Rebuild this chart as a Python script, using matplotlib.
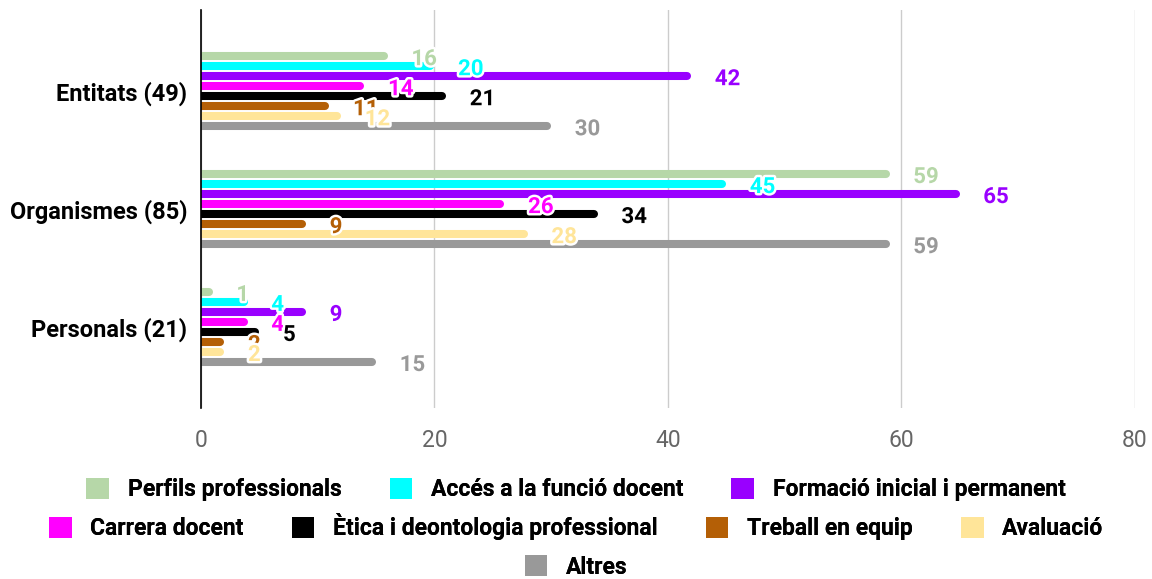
import matplotlib
matplotlib.use('Agg')
import matplotlib.pyplot as plt
import matplotlib.patheffects as pe
from matplotlib.patches import Patch
from matplotlib.transforms import ScaledTranslation

plt.rcParams['font.family'] = ['Roboto', 'DejaVu Sans']

categories = ['Entitats (49)', 'Organismes (85)', 'Personals (21)']
series = ['Perfils professionals', 'Accés a la funció docent', 'Formació inicial i permanent',
          'Carrera docent', 'Ètica i deontologia professional', 'Treball en equip',
          'Avaluació', 'Altres']
colors = ['#b6d7a8', '#00ffff', '#9900ff', '#ff00ff', '#000000', '#b45f06', '#ffe599', '#999999']
values = [
    [16, 59, 1],   # Perfils professionals
    [20, 45, 4],   # Accés a la funció docent
    [42, 65, 9],   # Formació inicial i permanent
    [14, 26, 4],   # Carrera docent
    [21, 34, 5],   # Ètica i deontologia professional
    [11, 9, 2],    # Treball en equip
    [12, 28, 2],   # Avaluació
    [30, 59, 15],  # Altres
]
xticks = [0, 20, 40, 60, 80]

fig = plt.figure(figsize=(11.52, 5.79), dpi=100)
ax = fig.add_axes([0.1745, 0.295, 0.8105, 0.688])

lw = 5.8          # bar thickness in points
step = 0.085      # distance between bars inside a group
n = len(series)
# shift the round caps back so the bar ends at its value
shift = ax.transData + ScaledTranslation(-lw / 2 / 72, 0, fig.dpi_scale_trans)

for i, (name, col) in enumerate(zip(series, colors)):
    for c, v in enumerate(values[i]):
        y = c + (i - (n - 1) / 2) * step
        ax.hlines(y, 0, v, colors=col, linewidth=lw, capstyle='round',
                  transform=shift, zorder=3)

# value labels drawn after all bars so they sit on top
for i, col in enumerate(colors):
    for c, v in enumerate(values[i]):
        y = c + (i - (n - 1) / 2) * step
        ax.annotate(str(v), (v, y), xytext=(17, -2.2), textcoords='offset points',
                    ha='left', va='center', fontsize=16, fontweight='bold', color=col,
                    zorder=5 + i,
                    path_effects=[pe.withStroke(linewidth=3.5, foreground='white')])

ax.set_xlim(0, 80)
ax.set_ylim(2.69, -0.69)
ax.set_xticks(xticks)
ax.set_xticklabels([str(t) for t in xticks], fontsize=16.5, color='#666666')
ax.set_yticks(range(len(categories)))
ax.set_yticklabels(categories, fontsize=17, fontweight='bold')
ax.tick_params(length=0)
ax.tick_params(axis='x', pad=15)
ax.tick_params(axis='y', pad=10)
ax.grid(axis='x', color='#cccccc', linewidth=1)
ax.set_axisbelow(True)
for s in ['top', 'right', 'bottom']:
    ax.spines[s].set_visible(False)
ax.spines['left'].set_linewidth(1.2)
ax.spines['left'].set_zorder(6)

# legend in three centred rows
rows = [(0, 3, 0.155), (3, 7, 0.090), (7, 8, 0.021)]
for a, b, yy in rows:
    handles = [Patch(facecolor=colors[k], edgecolor='none', label=series[k]) for k in range(a, b)]
    leg = fig.legend(handles=handles, loc='center', bbox_to_anchor=(0.5, yy), ncol=b - a,
                     frameon=False, handlelength=1.0, handleheight=1.05, handletextpad=0.8,
                     columnspacing=2.1, prop={'size': 16.5, 'weight': 'bold'})
    fig.add_artist(leg)

plt.savefig('out.png', dpi=100)
